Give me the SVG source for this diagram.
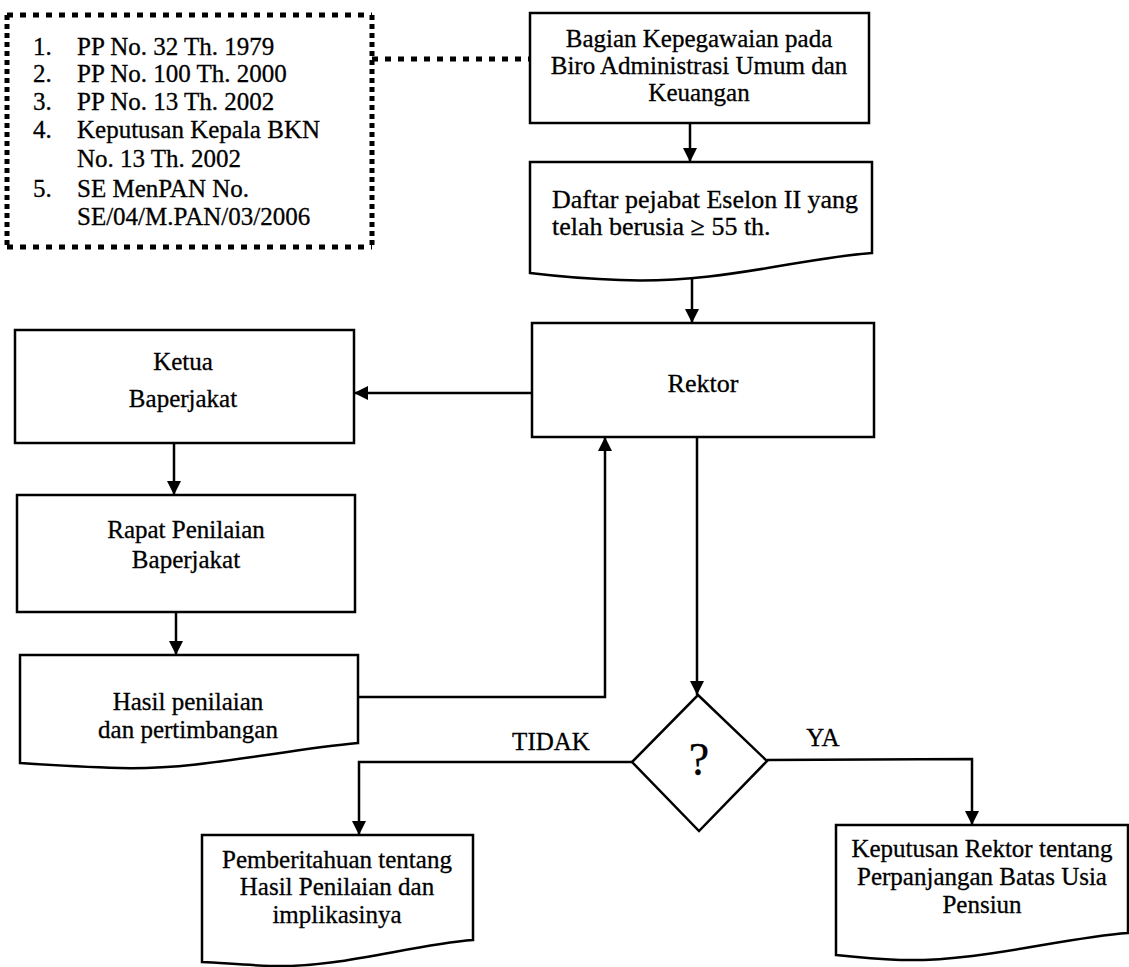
<svg xmlns="http://www.w3.org/2000/svg" width="1129" height="967" viewBox="0 0 1129 967">
<style>
  .box{fill:none;stroke:#000;stroke-width:2.5;stroke-linejoin:miter}
  .ln{fill:none;stroke:#000;stroke-width:2.5}
  .t{font-family:"Liberation Serif","Times New Roman",serif;font-size:25px;fill:#000;stroke:#000;stroke-width:0.3}
  .c{text-anchor:middle}
  .dh{fill:none;stroke:#000;stroke-width:5;stroke-dasharray:6 7}
  .dv{fill:none;stroke:#000;stroke-width:5;stroke-dasharray:5 4}
</style>
<defs>
  <marker id="ah" markerUnits="userSpaceOnUse" markerWidth="16" markerHeight="16" refX="14" refY="7" orient="auto">
    <path d="M0,0 L14,7 L0,14 z" fill="#000"/>
  </marker>
</defs>
<rect width="1129" height="967" fill="#fff"/>

<g id="dasar-hukum">
  <line class="dh" x1="7" y1="15" x2="372" y2="15"/>
  <line class="dh" x1="7" y1="247" x2="372" y2="247"/>
  <line class="dv" x1="7" y1="15" x2="7" y2="247"/>
  <line class="dv" x1="372" y1="15" x2="372" y2="247"/>
  <text class="t" x="33" y="55">1.</text><text class="t" x="77" y="55">PP No. 32 Th. 1979</text>
  <text class="t" x="33" y="82">2.</text><text class="t" x="77" y="82">PP No. 100 Th. 2000</text>
  <text class="t" x="33" y="110">3.</text><text class="t" x="77" y="110">PP No. 13 Th. 2002</text>
  <text class="t" x="33" y="138">4.</text><text class="t" x="77" y="138">Keputusan Kepala BKN</text>
  <text class="t" x="77" y="167">No. 13 Th. 2002</text>
  <text class="t" x="33" y="197">5.</text><text class="t" x="77" y="197">SE MenPAN No.</text>
  <text class="t" x="77" y="225">SE/04/M.PAN/03/2006</text>
</g>

<g id="bagian">
  <rect class="box" x="530" y="13" width="339" height="110"/>
  <text class="t c" x="699" y="47">Bagian Kepegawaian pada</text>
  <text class="t c" x="699" y="74">Biro Administrasi Umum dan</text>
  <text class="t c" x="699" y="101">Keuangan</text>
</g>

<g id="daftar">
  <path class="box" d="M530,162 H872 V253 C800,258 720,284 620,280 C585,279 555,276 530,273 Z"/>
  <text class="t" x="552" y="208" style="font-size:26px">Daftar pejabat Eselon II yang</text>
  <text class="t" x="552" y="235" style="font-size:26px">telah berusia ≥ 55 th.</text>
</g>

<g id="rektor">
  <rect class="box" x="532" y="323" width="342" height="114"/>
  <text class="t c" x="703" y="392" style="font-size:26px">Rektor</text>
</g>

<g id="ketua">
  <rect class="box" x="15" y="330" width="339" height="113"/>
  <text class="t c" x="183" y="370">Ketua</text>
  <text class="t c" x="183" y="407">Baperjakat</text>
</g>

<g id="rapat">
  <rect class="box" x="17" y="495" width="338" height="117"/>
  <text class="t c" x="186" y="538">Rapat Penilaian</text>
  <text class="t c" x="186" y="568">Baperjakat</text>
</g>

<g id="hasil">
  <path class="box" d="M20,655 H358 V743 C280,750 200,770 120,768 C80,767 50,765 20,763 Z"/>
  <text class="t c" x="188" y="710">Hasil penilaian</text>
  <text class="t c" x="188" y="738">dan pertimbangan</text>
</g>

<g id="keputusan-cek">
  <path class="box" d="M698,695 L767,761 L699,831 L632,762 Z"/>
  <text class="t c" x="699" y="775" style="font-size:46px">?</text>
</g>

<g id="pemberitahuan">
  <path class="box" d="M202,835 H473 V940 C410,945 340,968 270,966 C245,965 222,963 202,962 Z"/>
  <text class="t c" x="337" y="868">Pemberitahuan tentang</text>
  <text class="t c" x="337" y="895">Hasil Penilaian dan</text>
  <text class="t c" x="337" y="923">implikasinya</text>
</g>

<g id="keputusan-rektor">
  <path class="box" d="M836,825 H1128 V933 C1060,938 980,962 900,960 C875,959 855,957 836,955 Z"/>
  <text class="t c" x="982" y="857">Keputusan Rektor tentang</text>
  <text class="t c" x="982" y="885">Perpanjangan Batas Usia</text>
  <text class="t c" x="982" y="913">Pensiun</text>
</g>

<g id="connectors">
  <line class="dh" x1="372" y1="59" x2="530" y2="59"/>
  <line class="ln" x1="690" y1="123" x2="690" y2="162" marker-end="url(#ah)"/>
  <line class="ln" x1="692" y1="277" x2="692" y2="323" marker-end="url(#ah)"/>
  <line class="ln" x1="532" y1="393" x2="354" y2="393" marker-end="url(#ah)"/>
  <line class="ln" x1="174" y1="443" x2="174" y2="495" marker-end="url(#ah)"/>
  <line class="ln" x1="176" y1="612" x2="176" y2="655" marker-end="url(#ah)"/>
  <polyline class="ln" points="358,697 605,697 605,437" marker-end="url(#ah)"/>
  <line class="ln" x1="697" y1="437" x2="697" y2="695" marker-end="url(#ah)"/>
  <polyline class="ln" points="632,762 359,762 359,835" marker-end="url(#ah)"/>
  <polyline class="ln" points="767,760 972,759 972,825" marker-end="url(#ah)"/>
  <text class="t c" x="551" y="750">TIDAK</text>
  <text class="t c" x="823" y="746">YA</text>
</g>
</svg>
